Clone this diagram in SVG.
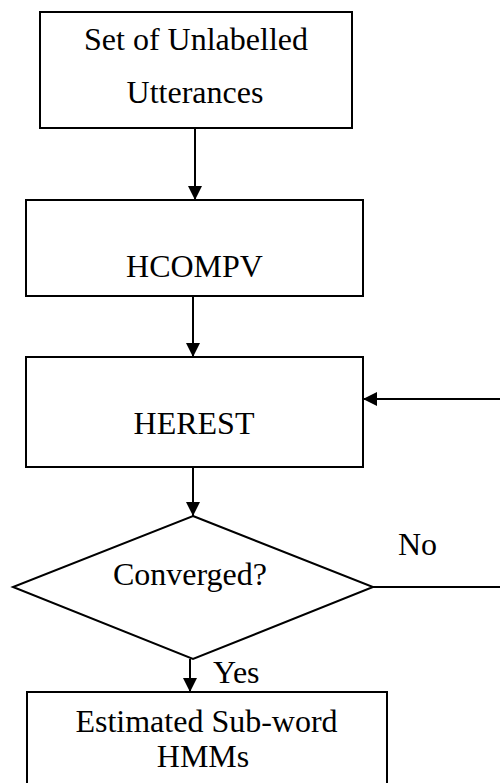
<svg xmlns="http://www.w3.org/2000/svg" width="500" height="783" viewBox="0 0 500 783">
<style>
.box{fill:#fff;stroke:#000;stroke-width:2}
.lbl{font-family:"Liberation Serif","Times New Roman",serif;font-size:32px;fill:#000}
.c{text-anchor:middle}
.edge{stroke:#000;stroke-width:2;fill:none}
</style>
<defs>
<marker id="ah" markerWidth="15" markerHeight="14" refX="14" refY="7" orient="auto" markerUnits="userSpaceOnUse">
<path d="M0,0 L14,7 L0,14 Z" fill="#000"/>
</marker>
</defs>
<rect width="500" height="783" fill="#fff"/>
<g id="n1">
<rect class="box" x="40" y="12" width="312" height="116"/>
<text class="lbl c" x="196" y="50">Set of Unlabelled</text>
<text class="lbl c" x="195" y="103">Utterances</text>
</g>
<g id="n2">
<rect class="box" x="26" y="200" width="337" height="96"/>
<text class="lbl c" x="194.5" y="277">HCOMPV</text>
</g>
<g id="n3">
<rect class="box" x="26" y="357" width="337" height="110"/>
<text class="lbl c" x="194" y="434">HEREST</text>
</g>
<g id="n4">
<polygon class="box" points="193,516 373,587 193,659 13,587"/>
<text class="lbl c" x="190" y="585">Converged?</text>
</g>
<g id="n5">
<rect class="box" x="27" y="692" width="360" height="110"/>
<text class="lbl c" x="206.5" y="732">Estimated Sub-word</text>
<text class="lbl c" x="203" y="767">HMMs</text>
</g>
<g id="edges">
<line class="edge" x1="195" y1="128" x2="195" y2="200" marker-end="url(#ah)"/>
<line class="edge" x1="193" y1="296" x2="193" y2="357" marker-end="url(#ah)"/>
<line class="edge" x1="193" y1="467" x2="193" y2="516" marker-end="url(#ah)"/>
<line class="edge" x1="190" y1="659" x2="190" y2="692" marker-end="url(#ah)"/>
<line class="edge" x1="373" y1="587" x2="500" y2="587"/>
<line class="edge" x1="500" y1="399" x2="363" y2="399" marker-end="url(#ah)"/>
<text class="lbl" x="398" y="555">No</text>
<text class="lbl" x="213" y="683">Yes</text>
</g>
</svg>
